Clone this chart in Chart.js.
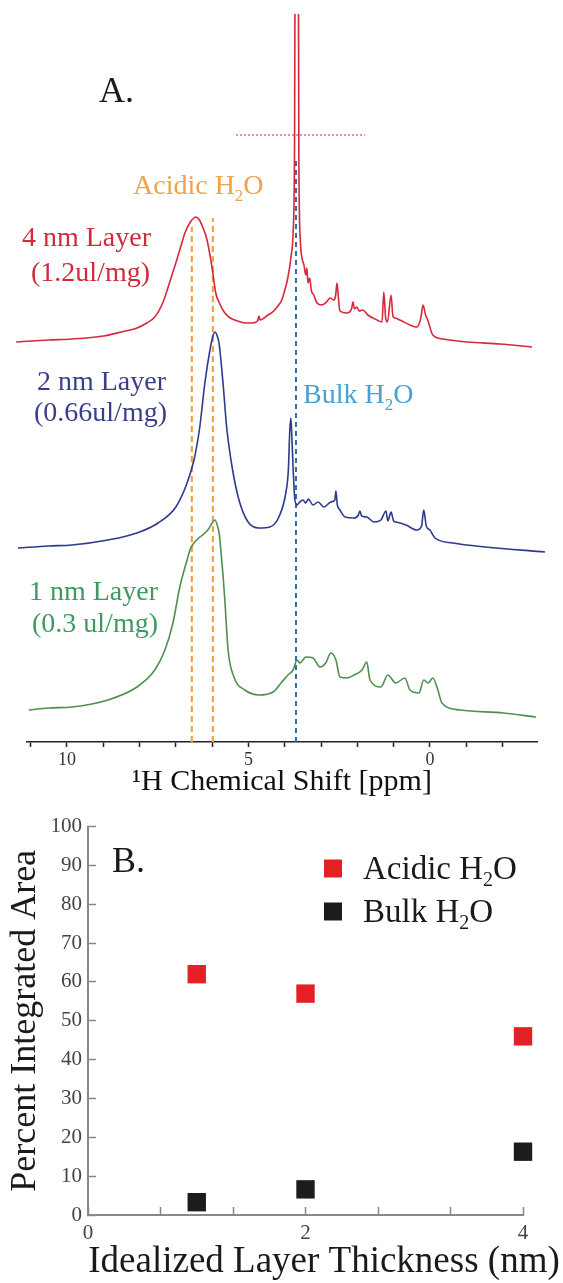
<!DOCTYPE html>
<html>
<head>
<meta charset="utf-8">
<script src="https://cdn.jsdelivr.net/npm/chart.js@4.4.1/dist/chart.umd.min.js"></script>
<style>
html,body{margin:0;padding:0;background:#ffffff;}
canvas{display:block;}
</style>
</head>
<body>
<canvas id="spectra" width="563" height="800"></canvas>
<canvas id="areas" width="563" height="483"></canvas>
<script>
// ---------- Panel A: 1H NMR spectra (intensity in arbitrary units) ----------
const spec4nmShift = [11.40,10.50,9.86,9.00,8.50,8.07,7.80,7.58,7.35,7.15,7.00,6.85,6.75,6.60,6.50,6.45,6.35,6.25,6.14,6.00,5.90,5.80,5.65,5.50,5.30,5.10,4.90,4.75,4.71,4.68,4.46,4.30,4.21,4.08,4.02,3.91,3.82,3.77,3.73,3.69,3.65,3.61,3.57,3.53,3.47,3.42,3.39,3.36,3.31,3.27,3.20,3.11,2.98,2.85,2.75,2.65,2.60,2.56,2.52,2.48,2.29,2.16,2.12,2.08,2.01,1.95,1.85,1.71,1.46,1.32,1.27,1.22,1.17,1.07,1.02,0.96,0.83,0.55,0.36,0.25,0.19,0.12,0.06,-0.08,-0.36,-1.02,-1.93,-2.81];
const spec4nmInt   = [400,402,403,406,410,414,419,425,440,462,479,497,509,520,524,525,522,514,502,474,449,439,429,424,421,419,419,421,426,422,427,431,435,442,449,465,487,509,592,1100,1100,582,502,485,477,467,474,459,464,452,447,439,437,440,444,442,446,459,444,431,429,433,440,433,435,431,432,427,422,420,450,424,420,447,426,424,422,417,415,424,437,427,422,407,403,400,398,395];

const spec2nmShift = [11.35,10.50,9.86,8.87,8.07,7.49,7.00,6.69,6.50,6.34,6.20,6.06,5.97,5.92,5.86,5.81,5.70,5.60,5.45,5.26,5.01,4.71,4.41,4.16,3.97,3.90,3.86,3.83,3.80,3.77,3.72,3.66,3.61,3.50,3.42,3.35,3.22,3.08,2.92,2.73,2.62,2.59,2.55,2.48,2.34,2.09,1.97,1.93,1.88,1.74,1.54,1.35,1.21,1.16,1.07,1.00,0.94,0.66,0.36,0.23,0.17,0.10,0.00,-0.14,-0.63,-1.53,-3.17];
const spec2nmInt   = [194,196,197,202,209,219,235,259,282,315,359,392,407,410,406,399,359,315,275,242,220,214,215,225,249,272,312,324,302,275,242,237,239,242,239,243,237,240,235,240,242,251,237,232,225,224,227,231,226,225,220,222,231,221,230,221,220,217,212,216,232,216,212,204,199,195,190];

const spec1nmShift = [11.05,10.50,9.86,8.87,8.07,7.58,7.30,7.08,6.89,6.69,6.60,6.50,6.40,6.30,6.20,6.10,6.00,5.92,5.86,5.80,5.76,5.70,5.65,5.56,5.40,5.10,4.71,4.32,4.08,3.91,3.77,3.66,3.58,3.42,3.22,3.03,2.87,2.73,2.59,2.48,2.29,2.09,1.87,1.74,1.65,1.35,1.16,0.94,0.69,0.55,0.30,0.17,0.05,-0.08,-0.22,-0.33,-0.83,-2.03,-2.92];
const spec1nmInt   = [32,34,35,42,55,72,92,119,155,182,193,199,203,206,209,213,219,222,217,207,192,167,142,92,65,52,47,50,60,67,72,82,79,85,84,75,79,89,82,65,64,67,72,80,62,55,67,59,64,52,49,62,59,64,52,39,32,29,25];

const acidicShifts = [6.56, 5.98];      // orange dashed markers
const acidicTops   = [515, 524];
const bulkShift    = 3.69;               // blue dashed marker
const bulkTop      = 584;
const clipLevelShift = [5.34, 1.79];     // red dotted clip level
const clipLevel      = 607;

const shiftTicks      = [-2,-1,0,1,2,3,4,5,6,7,8,9,10,11];
const shiftTickLabels = ['','','0','','','','','5','','','','','10',''];

// ---------- Panel B: percent integrated area ----------
const thickness   = [1, 2, 4];
const acidicArea  = [62, 57, 46];
const bulkArea    = [3.3, 6.6, 16.3];
const thicknessTicks      = [0, 2/3, 4/3, 2, 8/3, 10/3, 4];
const thicknessTickLabels = ['0','','','2','','','4'];

const SERIF = '"Liberation Serif", "Times New Roman", serif';
Chart.defaults.font.family = SERIF;
Chart.defaults.animation = false;

function richParts(text){
  const out=[]; let buf='';
  for (const ch of text){
    if (ch==='\u2082'){ if(buf) out.push({t:buf}); out.push({t:'2',sub:true}); buf=''; }
    else buf+=ch;
  }
  if (buf) out.push({t:buf});
  return out;
}
function drawRich(ctx, text, x, y, size, color, align){
  const parts = richParts(text);
  ctx.save();
  ctx.fillStyle=color; ctx.textBaseline='alphabetic'; ctx.textAlign='left';
  const fontFor = p => (p.sub ? Math.round(size*0.62) : size) + 'px ' + SERIF;
  const ws = parts.map(p => { ctx.font = fontFor(p); return ctx.measureText(p.t).width; });
  const total = ws.reduce((a,b)=>a+b,0);
  let cx = align==='right' ? x-total : (align==='center' ? x-total/2 : x);
  parts.forEach((p,i)=>{ ctx.font=fontFor(p); ctx.fillText(p.t, cx, p.sub ? y+size*0.24 : y); cx+=ws[i]; });
  ctx.restore();
}

const topNotes = [
  {text:'A.', x:99, y:102, size:36, color:'#1a1a1a'},
  {text:'Acidic H\u2082O', x:133, y:194, size:28, color:'#efa24a'},
  {text:'4 nm Layer', x:151, y:246, size:28, color:'#cf2a3e', align:'right'},
  {text:'(1.2ul/mg)', x:150, y:281, size:28, color:'#cf2a3e', align:'right'},
  {text:'2 nm Layer', x:166, y:390, size:28, color:'#3a3f8c', align:'right'},
  {text:'(0.66ul/mg)', x:167, y:421, size:28, color:'#3a3f8c', align:'right'},
  {text:'1 nm Layer', x:158, y:600, size:28, color:'#3e9a63', align:'right'},
  {text:'(0.3 ul/mg)', x:158, y:632, size:28, color:'#3e9a63', align:'right'},
  {text:'Bulk H\u2082O', x:303, y:403, size:28, color:'#45a2d2'}
];
const notesPlugin = notes => ({
  id:'notes',
  afterDraw(chart){ notes.forEach(n => drawRich(chart.ctx, n.text, n.x, n.y, n.size, n.color, n.align||'left')); }
});

const xy = (xs, ys) => xs.map((x,i)=>({x, y: ys[i]}));
const traceStyle = color => ({
  borderColor: color, borderWidth: 1.6, pointRadius: 0, fill: false,
  cubicInterpolationMode: 'monotone', clip: {left: 16, right: 16, top: 0, bottom: 0}
});

new Chart(document.getElementById('spectra'), {
  type: 'line',
  data: {
    datasets: [
      Object.assign({label:'4 nm Layer (1.2ul/mg)', data: xy(spec4nmShift, spec4nmInt)}, traceStyle('#d4283b')),
      Object.assign({label:'2 nm Layer (0.66ul/mg)', data: xy(spec2nmShift, spec2nmInt)}, traceStyle('#2f3a8c')),
      Object.assign({label:'1 nm Layer (0.3 ul/mg)', data: xy(spec1nmShift, spec1nmInt)}, traceStyle('#4f8f4f')),
      {label:'Acidic H2O a', data:[{x:acidicShifts[0],y:0},{x:acidicShifts[0],y:acidicTops[0]}], borderColor:'#f2a244', borderWidth:2.2, borderDash:[6,4], pointRadius:0},
      {label:'Acidic H2O b', data:[{x:acidicShifts[1],y:0},{x:acidicShifts[1],y:acidicTops[1]}], borderColor:'#f2a244', borderWidth:2.2, borderDash:[6,4], pointRadius:0},
      {label:'Bulk H2O', data:[{x:bulkShift,y:0},{x:bulkShift,y:bulkTop}], borderColor:'#2c6db0', borderWidth:2, borderDash:[5,4], pointRadius:0},
      {label:'clip level', data:[{x:clipLevelShift[0],y:clipLevel},{x:clipLevelShift[1],y:clipLevel}], borderColor:'#e8607a', borderWidth:1.5, borderDash:[2,2], pointRadius:0}
    ]
  },
  options: {
    responsive:false, devicePixelRatio:1, animation:false,
    layout:{padding:{left:27, right:26, top:14, bottom:0}},
    plugins:{legend:{display:false}, tooltip:{enabled:false}},
    scales:{
      x:{
        type:'linear', reverse:true, min:-2.95, max:11.1,
        afterBuildTicks: s => { s.ticks = shiftTicks.map(v=>({value:v})); },
        afterFit: s => { s.height = 58; },
        ticks:{autoSkip:false, maxRotation:0, padding:2, color:'#333', font:{size:18, family:SERIF},
               callback:(v,i)=>shiftTickLabels[i]},
        grid:{drawOnChartArea:false, drawTicks:true, tickLength:5, tickWidth:1.5, tickColor:'#222'},
        border:{display:true, color:'#222', width:1.5},
        title:{display:true, text:'\u00B9H Chemical Shift [ppm]', color:'#111', font:{size:30, family:SERIF}, padding:{top:0,bottom:0}}
      },
      y:{type:'linear', display:false, min:0, max:728}
    }
  },
  plugins:[notesPlugin(topNotes)]
});

// ---------- Panel B ----------
const bottomNotes = [
  {text:'B.', x:112, y:72, size:36, color:'#1a1a1a'},
  {text:'Idealized Layer Thickness (nm)', x:324, y:472, size:37, color:'#1a1a1a', align:'center'}
];
const legendBox = {x:333, y:68.5, gap:43, size:18, textX:363};
const inlineLegend = {
  id:'inlineLegend',
  afterDraw(chart){
    const ctx = chart.ctx;
    chart.data.datasets.forEach((ds,i)=>{
      const cy = legendBox.y + i*legendBox.gap;
      ctx.save(); ctx.fillStyle = ds.backgroundColor;
      ctx.fillRect(legendBox.x - legendBox.size/2, cy - legendBox.size/2, legendBox.size, legendBox.size);
      ctx.restore();
      drawRich(ctx, ds.label, legendBox.textX, cy + 10, 33, '#1a1a1a', 'left');
    });
  }
};

new Chart(document.getElementById('areas'), {
  type:'scatter',
  data:{
    datasets:[
      {label:'Acidic H\u2082O', data: xy(thickness, acidicArea), backgroundColor:'#e42026', borderColor:'#e42026', borderWidth:0, pointStyle:'rect', pointRadius:13, clip:false},
      {label:'Bulk H\u2082O', data: xy(thickness, bulkArea), backgroundColor:'#1c1c1c', borderColor:'#1c1c1c', borderWidth:0, pointStyle:'rect', pointRadius:13, clip:false}
    ]
  },
  options:{
    responsive:false, devicePixelRatio:1, animation:false,
    layout:{padding:{left:0, right:40, top:22, bottom:0}},
    plugins:{legend:{display:false}, tooltip:{enabled:false}},
    scales:{
      x:{
        type:'linear', min:0, max:4,
        afterBuildTicks: s => { s.ticks = thicknessTicks.map(v=>({value:v})); },
        afterFit: s => { s.height = 68; },
        ticks:{autoSkip:false, maxRotation:0, padding:14, color:'#444', font:{size:21, family:SERIF},
               callback:(v,i)=>thicknessTickLabels[i]},
        grid:{drawOnChartArea:false, drawTicks:true, tickLength:-8, tickWidth:1.5, tickColor:'#888'},
        border:{display:true, color:'#888', width:2},
        title:{display:false}
      },
      y:{
        type:'linear', min:0, max:100,
        afterFit: s => { s.width = 88; },
        ticks:{stepSize:10, padding:14, color:'#444', font:{size:21, family:SERIF}},
        grid:{drawOnChartArea:false, drawTicks:true, tickLength:-8, tickWidth:1.5, tickColor:'#888'},
        border:{display:true, color:'#888', width:2},
        title:{display:true, text:'Percent Integrated Area', color:'#1a1a1a', font:{size:36, family:SERIF}, padding:{top:4,bottom:0}}
      }
    }
  },
  plugins:[notesPlugin(bottomNotes), inlineLegend]
});
</script>
</body>
</html>
